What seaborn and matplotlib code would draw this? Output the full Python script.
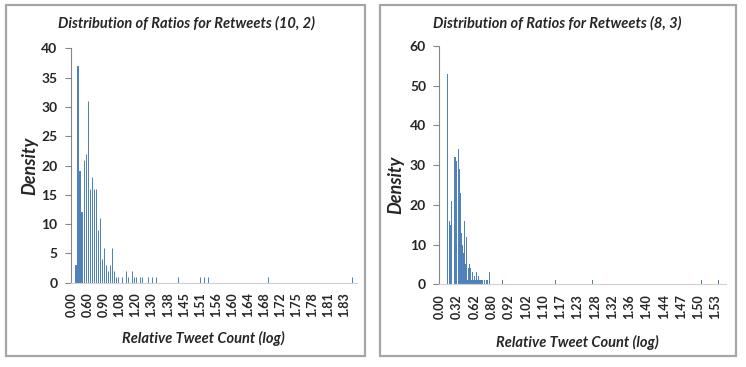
import matplotlib
matplotlib.use("Agg")
import matplotlib.pyplot as plt
import seaborn as sns
import pandas as pd
from matplotlib.patches import Rectangle

# Datos (indice de categoria -> densidad)
left_bins = [2, 3, 4, 5, 6, 7, 8, 9, 10, 11, 12, 13, 14, 15, 16, 17, 18, 19, 20, 21,
             22, 23, 25, 27, 28, 30, 31, 32, 34, 35, 38, 40, 42, 53, 64, 66, 68, 98, 140]
left_density = [3, 37, 19, 12, 21, 22, 31, 16, 18, 16, 16, 9, 11, 4, 6, 3, 2, 3, 6, 2,
                1, 1, 1, 2, 1, 2, 1, 1, 1, 1, 1, 1, 1, 1, 1, 1, 1, 1, 1]
left_ticks = ["0.00", "0.60", "0.90", "1.08", "1.20", "1.30", "1.38", "1.45", "1.51",
              "1.56", "1.60", "1.64", "1.68", "1.72", "1.75", "1.78", "1.81", "1.83"]

right_bins = [8, 10, 11, 12, 15, 16, 18, 19, 20, 21, 22, 23, 24, 25, 26, 27, 28, 29, 30,
              31, 32, 33, 34, 35, 36, 37, 38, 39, 40, 41, 42, 44, 46, 47, 49, 62, 114,
              151, 258, 275]
right_density = [53, 16, 15, 21, 32, 31, 34, 29, 23, 13, 10, 8, 16, 5, 12, 1, 4, 5, 4,
                 1, 3, 1, 2, 1, 3, 1, 2, 1, 1, 1, 1, 1, 1, 1, 3, 1, 1, 1, 1, 1]
right_ticks = ["0.00", "0.32", "0.62", "0.80", "0.92", "1.02", "1.10", "1.17", "1.23",
               "1.28", "1.32", "1.36", "1.40", "1.44", "1.47", "1.50", "1.53"]

sns.set_style("white")
plt.rcParams["font.family"] = ["Lato", "DejaVu Sans"]

bar_color = "#4F81BD"
fig = plt.figure(figsize=(7.46, 3.67), dpi=100)

# marcos de cada panel
for x0, x1 in [(6, 365), (380, 736)]:
    fig.patches.append(Rectangle((x0 / 746, 1 - 356 / 367), (x1 - x0) / 746, 351 / 367,
                                 transform=fig.transFigure, fill=False,
                                 edgecolor="#A6A6A6", lw=1.6))

# barras izquierda: casi sin ancho + borde de 1px -> columnas de 1px nitidas
paneles = [
    dict(bins=left_bins, dens=left_density, ticks=left_ticks, step=8, n=143, ymax=40,
         ystep=5, pos=[70.5, 48.3, 357, 282.7], w=0.02, lw=0.72,
         title="Distribution of Ratios for Retweets (10, 2)", tx=186, ty=23,
         ylx=30, yly=166, xlx=203, xly=338),
    dict(bins=right_bins, dens=right_density, ticks=right_ticks, step=17, n=283, ymax=60,
         ystep=10, pos=[439.3, 46, 726, 284.3], w=1.0, lw=0,
         title="Distribution of Ratios for Retweets (8, 3)", tx=557, ty=23,
         ylx=396, yly=185, xlx=577, xly=342),
]

for p in paneles:
    l, t, r, b = p["pos"]
    ax = fig.add_axes([l / 746, 1 - b / 367, (r - l) / 746, (b - t) / 367])
    df = pd.DataFrame({"cat": p["bins"], "dens": p["dens"]})
    sns.histplot(data=df, x="cat", weights="dens", discrete=True, shrink=p["w"],
                 color=bar_color, alpha=1, linewidth=p["lw"], edgecolor=bar_color, ax=ax)
    ax.set_xlim(-0.5, p["n"] - 0.5)
    ax.set_ylim(0, p["ymax"])
    ax.set_yticks(range(0, p["ymax"] + 1, p["ystep"]))
    ax.set_xticks([i * p["step"] for i in range(len(p["ticks"]))])
    ax.set_xticklabels(p["ticks"], rotation=90)
    ax.set_xlabel("")
    ax.set_ylabel("")
    for s in ["top", "right"]:
        ax.spines[s].set_visible(False)
    ax.spines["left"].set_color("#868686")
    ax.spines["bottom"].set_color("#D0D0D0")
    ax.tick_params(axis="y", direction="out", length=4, color="#868686", pad=5.5,
                   labelsize=10, left=True)
    ax.tick_params(axis="x", length=0, pad=7, labelsize=9)
    for lab in ax.get_xticklabels() + ax.get_yticklabels():
        lab.set_fontweight("bold")

    fig.text(p["tx"] / 746, 1 - p["ty"] / 367, p["title"], ha="center", va="center",
             fontsize=10.5, fontweight="bold", style="italic")
    fig.text(p["ylx"] / 746, 1 - p["yly"] / 367, "Density", ha="center", va="center",
             rotation=90, fontsize=13, fontweight="bold", style="italic")
    fig.text(p["xlx"] / 746, 1 - p["xly"] / 367, "Relative Tweet Count (log)",
             ha="center", va="center", fontsize=10.5, fontweight="bold", style="italic")

plt.savefig("out.png", dpi=100)
